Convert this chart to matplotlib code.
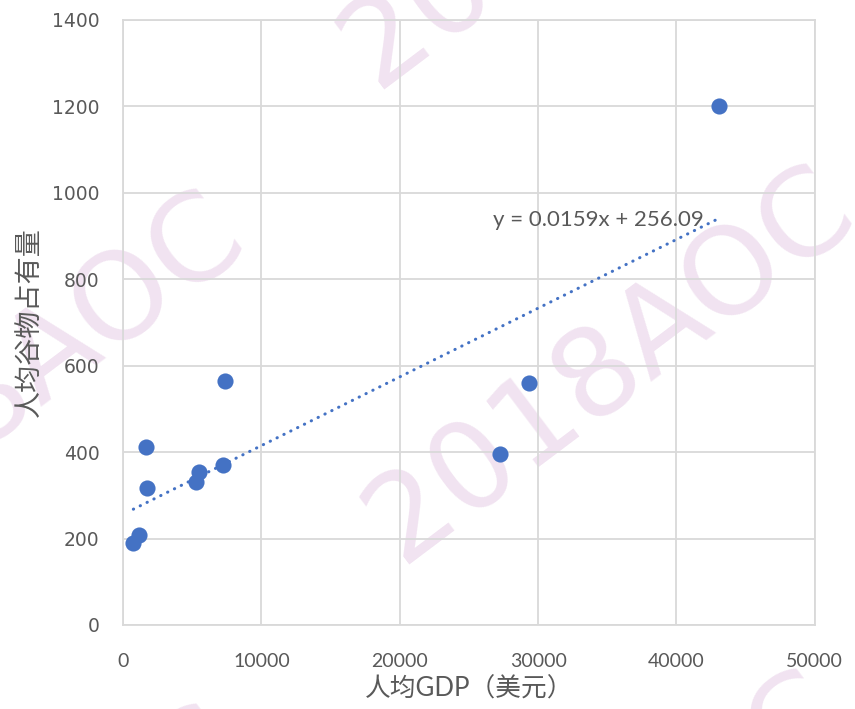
import matplotlib
matplotlib.use("Agg")
import numpy as np
import matplotlib.pyplot as plt

# 人均GDP（美元） vs 人均谷物占有量
gdp = [745, 1180, 1660, 1760, 5280, 5520, 7250, 7380, 27260, 29330, 43040]
grain = [190, 208, 413, 318, 332, 353, 371, 565, 395, 559, 1200]

# Excel linear trendline shown on the chart
slope = 0.0159
intercept = 256.09
eq_label = "y = 0.0159x + 256.09"

x_ticks = [0, 10000, 20000, 30000, 40000, 50000]
y_ticks = [0, 200, 400, 600, 800, 1000, 1200, 1400]

watermark = "2018AOC"

plt.rcParams['font.family'] = ['Lato', 'Noto Sans CJK SC', 'DejaVu Sans']
text_color = '#595959'
blue = '#4472C4'

fig = plt.figure(figsize=(8.55, 7.09), dpi=100)
ax = fig.add_axes([0.1439, 0.1185, 0.8091, 0.8533])
ax.set_facecolor('none')

# watermark tiles (pixel centres), drawn under the axes
for cx, cy in [(585, -110), (610, 365), (600, 870), (0, -110), (0, 390), (0, 905)]:
    fig.text(cx / 855, 1 - cy / 709, watermark, fontsize=88,
             color='#a040a0', alpha=0.15, rotation=37, ha='center',
             va='center', family=['DejaVu Sans'], zorder=-1)

ax.scatter(gdp, grain, s=135, color=blue, zorder=3, linewidths=0)

xs = np.array([min(gdp), max(gdp)])
ax.plot(xs, slope * xs + intercept, color=blue, lw=2.2,
        linestyle=(0, (0.1, 2.4)), dash_capstyle='round', zorder=2)
ax.text(26750, 937, eq_label, fontsize=16, color=text_color,
        ha='left', va='center', zorder=4)

ax.set_xlim(0, 50000)
ax.set_ylim(0, 1400)
ax.set_xticks(x_ticks)
ax.set_yticks(y_ticks)
ax.grid(True, color='#d9d9d9', lw=1.3, zorder=1)
ax.set_axisbelow(True)
for sp in ax.spines.values():
    sp.set_color('#d9d9d9')
    sp.set_linewidth(1.3)
ax.tick_params(length=0, colors=text_color)
ax.tick_params(axis='x', labelsize=14, pad=20)
ax.tick_params(axis='y', labelsize=13.5, pad=17)
for lab in ax.get_yticklabels():
    lab.set_family(['DejaVu Sans'])

ax.set_xlabel("人均GDP（美元）", fontsize=18.5, color=text_color, labelpad=5)
ax.set_ylabel("人均谷物占有量", fontsize=19.5, color=text_color, labelpad=7)

fig.savefig("out.png", dpi=100)
